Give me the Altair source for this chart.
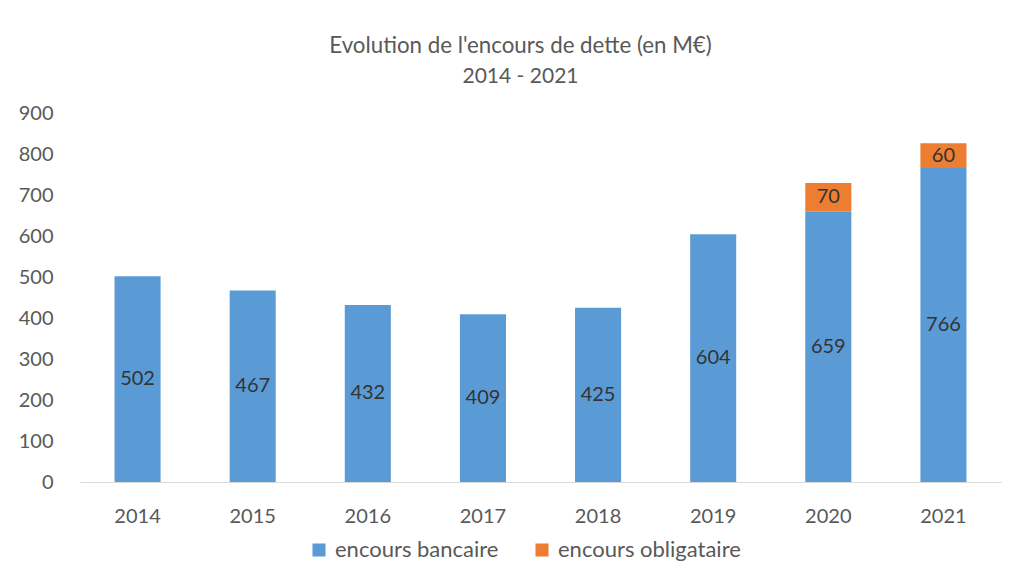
import altair as alt
import pandas as pd

years = ["2014", "2015", "2016", "2017", "2018", "2019", "2020", "2021"]
bancaire = [502, 467, 432, 409, 425, 604, 659, 766]
obligataire = [None, None, None, None, None, None, 70, 60]
series = ["encours bancaire", "encours obligataire"]
colors = ["#5B9BD5", "#ED7D31"]

rows = []
for yr, b, o in zip(years, bancaire, obligataire):
    rows.append({"annee": yr, "serie": series[0], "valeur": b, "ordre": 0})
    if o is not None:
        rows.append({"annee": yr, "serie": series[1], "valeur": o, "ordre": 1})
df = pd.DataFrame(rows)

FONT = "Lato"
GREY = "#595959"

base = alt.Chart(df).transform_stack(
    stack="valeur", groupby=["annee"], as_=["v0", "v1"],
    sort=[alt.SortField("ordre", order="ascending")]
).transform_calculate(mid="(datum.v0 + datum.v1) / 2")

x = alt.X("annee:N", title=None, sort=years,
          scale=alt.Scale(paddingInner=0.6, paddingOuter=0.3),
          axis=alt.Axis(labelAngle=0, ticks=False, tickSize=0, domainColor="#d9d9d9",
                        domainWidth=1, labelFontSize=20, labelColor=GREY,
                        labelFont=FONT, labelPadding=24, grid=False))

bars = base.mark_bar().encode(
    x=x,
    y=alt.Y("v0:Q", title=None,
            scale=alt.Scale(domain=[0, 900], nice=False),
            axis=alt.Axis(tickCount=10, domain=False, ticks=False, tickSize=0, grid=False,
                          labelFontSize=20, labelColor=GREY, labelFont=FONT,
                          labelPadding=27)),
    y2="v1:Q",
    color=alt.Color("serie:N", title=None,
                    scale=alt.Scale(domain=series, range=colors),
                    legend=alt.Legend(orient="none", direction="horizontal",
                                      legendX=228, legendY=426,
                                      symbolType="square", symbolSize=170,
                                      symbolStrokeWidth=0,
                                      labelFontSize=22, labelFont=FONT, labelColor=GREY,
                                      labelLimit=400,
                                      labelOffset=5, columnPadding=32)),
    order=alt.Order("ordre:Q"),
)

labels = base.mark_text(fontSize=20, font=FONT, color="#333333", baseline="middle").encode(
    x=x,
    y=alt.Y("mid:Q"),
    text=alt.Text("valeur:Q"),
)

chart = alt.layer(bars, labels).properties(
    width=921, height=369,
    padding={"left": 72, "top": 105, "right": 10, "bottom": 80},
    autosize=alt.AutoSizeParams(type="none"),
    background="white",
    title=alt.TitleParams(
        text="Evolution de l'encours de dette (en M€)",
        subtitle="2014  - 2021",
        anchor="middle", dx=-20, offset=16,
        font=FONT, fontSize=22.3, fontWeight="normal", color=GREY,
        subtitleFont=FONT, subtitleFontSize=21, subtitleColor=GREY,
        subtitlePadding=9,
    ),
).configure_view(stroke=None, strokeWidth=0)

chart.save("out.html", embed_options={"renderer": "svg", "actions": False})
